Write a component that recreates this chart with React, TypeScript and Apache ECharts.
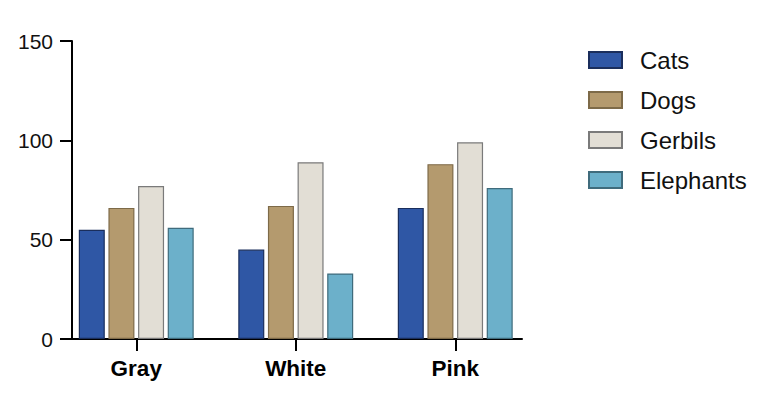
import { useEffect, useRef } from 'react';
import * as echarts from 'echarts';

const categories = ['Gray', 'White', 'Pink'];
const seriesNames = ['Cats', 'Dogs', 'Gerbils', 'Elephants'];
const cats = [55, 45, 66];
const dogs = [66, 67, 88];
const gerbils = [77, 89, 99];
const elephants = [56, 33, 76];
const yTicks = [0, 50, 100, 150];

const fills = ['#2f57a5', '#b49a6e', '#e2ded5', '#6cb0ca'];
const borders = ['#1a2e5c', '#7d6a48', '#7a7a7a', '#3f6b7c'];

const FONT = 'Liberation Sans, Arial, sans-serif';

const App: React.FC = () => {
  const chartRef = useRef<HTMLDivElement>(null);

  useEffect(() => {
    if (!chartRef.current) return;
    const chart = echarts.init(chartRef.current, undefined, { renderer: 'svg' });
    const values = [cats, dogs, gerbils, elephants];

    const option = {
      animation: false,
      backgroundColor: '#ffffff',
      textStyle: { fontFamily: FONT },
      legend: {
        orient: 'vertical',
        left: 583,
        top: 43,
        itemWidth: 33,
        itemHeight: 16,
        itemGap: 16,
        icon: 'rect',
        data: seriesNames,
        textStyle: {
          fontFamily: FONT,
          fontSize: 24,
          lineHeight: 24,
          color: '#111',
          padding: [0, 0, 0, 13],
        },
      },
      grid: [
        // bars
        { left: 56.5, width: 478.5, top: 41, bottom: 61 },
        // visible axes
        { left: 72, width: 450, top: 41, bottom: 61 },
      ],
      xAxis: [
        {
          type: 'category',
          gridIndex: 0,
          data: categories,
          axisLine: { show: false },
          axisTick: {
            show: true,
            alignWithLabel: true,
            length: 12,
            lineStyle: { color: '#000', width: 2 },
          },
          axisLabel: {
            margin: 18,
            fontFamily: FONT,
            fontSize: 22.5,
            fontWeight: 'bold',
            color: '#000',
          },
        },
        {
          type: 'value',
          gridIndex: 1,
          min: 0,
          max: 1,
          axisLine: { show: true, lineStyle: { color: '#000', width: 2 } },
          axisTick: { show: false },
          axisLabel: { show: false },
          splitLine: { show: false },
        },
      ],
      yAxis: [
        {
          type: 'value',
          gridIndex: 0,
          min: yTicks[0],
          max: yTicks[yTicks.length - 1],
          show: false,
        },
        {
          type: 'value',
          gridIndex: 1,
          min: yTicks[0],
          max: yTicks[yTicks.length - 1],
          interval: yTicks[1] - yTicks[0],
          axisLine: { show: true, lineStyle: { color: '#000', width: 2 } },
          axisTick: { show: true, length: 12, lineStyle: { color: '#000', width: 2 } },
          axisLabel: {
            margin: 19,
            fontFamily: FONT,
            fontSize: 21,
            color: '#111',
          },
          splitLine: { show: false },
        },
      ],
      series: seriesNames.map((name, i) => ({
        name,
        type: 'bar',
        xAxisIndex: 0,
        yAxisIndex: 0,
        data: values[i],
        barWidth: 26,
        barGap: '14%',
        itemStyle: {
          color: fills[i],
          borderColor: borders[i],
          borderWidth: 1.2,
        },
      })),
    };

    chart.setOption(option);

    const handleResize = () => chart.resize();
    window.addEventListener('resize', handleResize);
    return () => {
      window.removeEventListener('resize', handleResize);
      chart.dispose();
    };
  }, []);

  return (
    <div
      ref={chartRef}
      style={{ position: 'absolute', left: 0, top: 0, width: 768, height: 400 }}
    />
  );
};

export default App;
